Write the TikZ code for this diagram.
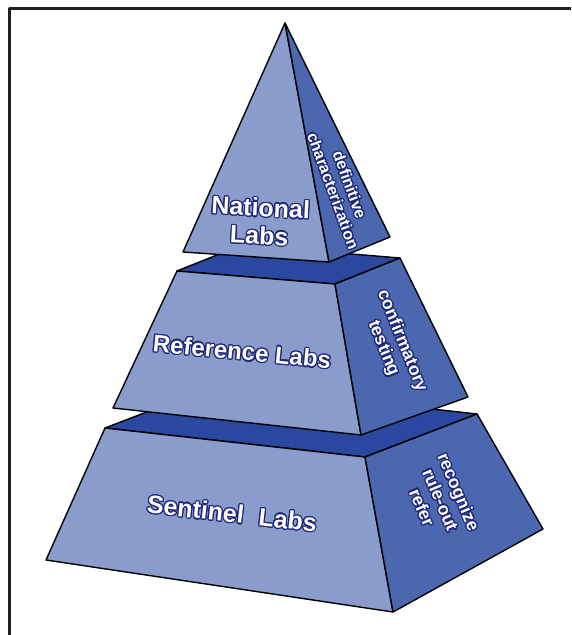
\documentclass[tikz,border=0pt]{standalone}
\usepackage{fontspec}
\setmainfont{Liberation Sans}
\usepackage{contour}
\contourlength{0.6pt}
\usepackage{tikz}

\definecolor{frontblue}{RGB}{138,156,204}
\definecolor{sideblue}{RGB}{75,103,176}
\definecolor{topblue}{RGB}{42,72,160}
\definecolor{inkblue}{RGB}{30,40,120}
\definecolor{framegray}{RGB}{35,31,32}
% white letters with a dark blue rim
\newcommand{\outl}[1]{\contour{inkblue}{#1}}

\begin{document}
\begin{tikzpicture}[x=0.5pt, y=-0.5pt, line join=round,
    front/.style = {fill=frontblue, draw=black, line width=0.7pt},
    side/.style = {fill=sideblue, draw=black, line width=0.7pt},
    roof/.style = {fill=topblue, draw=black, line width=0.7pt},
    lab/.style = {text=white, align=center, font=\fontsize{12}{14.5}\selectfont\bfseries},
    task/.style = {text=white, align=center, font=\fontsize{8.8}{10}\selectfont\bfseries}]
    \useasboundingbox (0,0) rectangle (571,635);
    \draw[framegray, line width=1.6pt] (9.8,635) |- (571,8.3);

    % corners
    \coordinate (apex) at (285,23);
    \coordinate (natL) at (183,252);
    \coordinate (natF) at (329,262);
    \coordinate (natR) at (390,237);
    \coordinate (refTL) at (177,271);
    \coordinate (refTF) at (335,284);
    \coordinate (refTR) at (400,258);
    \coordinate (refTK) at (242,245);
    \coordinate (refBL) at (113,408);
    \coordinate (refBF) at (361,435);
    \coordinate (refBR) at (468,397);
    \coordinate (senTL) at (105,428);
    \coordinate (senTF) at (365,457);
    \coordinate (senTR) at (477,414);
    \coordinate (senTK) at (217,385);
    \coordinate (senBL) at (46,560);
    \coordinate (senBF) at (393,612);
    \coordinate (senBR) at (543,529);

    % sentinel block
    \draw[roof] (senTL) -- (senTF) -- (senTR) -- (senTK) -- cycle;
    \draw[front] (senTL) -- (senTF) -- (senBF) -- (senBL) -- cycle;
    \draw[side] (senTF) -- (senTR) -- (senBR) -- (senBF) -- cycle;

    % reference block
    \draw[roof] (refTL) -- (refTF) -- (refTR) -- (refTK) -- cycle;
    \draw[front] (refTL) -- (refTF) -- (refBF) -- (refBL) -- cycle;
    \draw[side] (refTF) -- (refTR) -- (refBR) -- (refBF) -- cycle;

    % national pyramid
    \draw[front] (apex) -- (natF) -- (natL) -- cycle;
    \draw[side] (apex) -- (natR) -- (natF) -- cycle;

    \node[lab, font=\fontsize{12.5}{14}\selectfont\bfseries, rotate=-3] (national) at (260,222) {\outl{National}\\\outl{Labs}};
    \node[lab, rotate=-5.5] (reference) at (242,352) {\outl{Reference Labs}};
    \node[lab, font=\fontsize{12.5}{14}\selectfont\bfseries, rotate=-6.5] (sentinel) at (232,514) {\outl{Sentinel\hspace{0.6em}Labs}};

    \node[task, font=\fontsize{8}{8.8}\selectfont\bfseries, rotate=-70] (definitive) at (341,188) {\outl{definitive}\\\outl{characterization}};
    \node[task, rotate=-68] (confirmatory) at (392,345) {\outl{confirmatory}\\\outl{testing}};
    \node[task, rotate=-67] (recognize) at (440,500) {\outl{recognize}\\\outl{rule-out}\\\outl{refer}};
\end{tikzpicture}
\end{document}
